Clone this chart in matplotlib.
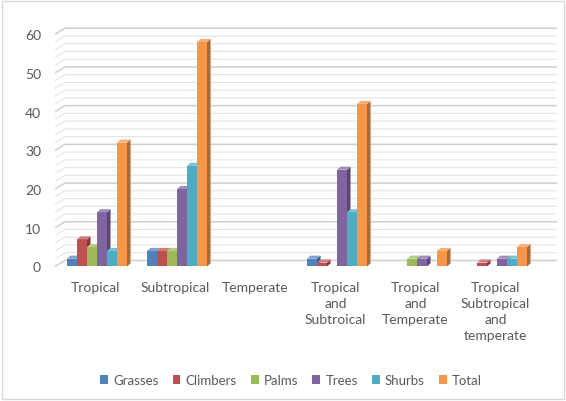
import matplotlib
matplotlib.use('Agg')
import matplotlib.pyplot as plt
from matplotlib.patches import Patch, Rectangle
from matplotlib.colors import to_rgb
import numpy as np

plt.rcParams['font.family'] = ['Lato', 'DejaVu Sans']

regions = ['Tropical', 'Subtropical', 'Temperate', 'Tropical\nand\nSubtroical',
           'Tropical\nand\nTemperate', 'Tropical\nSubtropical\nand\ntemperate']
series_names = ['Grasses', 'Climbers', 'Palms', 'Trees', 'Shurbs', 'Total']
grasses = [2, 4, 0, 2, 0, 0]
climbers = [7, 4, 0, 1, 0, 1]
palms = [5, 4, 0, 0, 2, 0]
trees = [14, 20, 0, 25, 2, 2]
shurbs = [4, 26, 0, 14, 0, 2]
total = [32, 58, 0, 42, 4, 5]
colors = ['#4F81BD', '#C0504D', '#9BBB59', '#8064A2', '#4BACC6', '#F79646']

series = [grasses, climbers, palms, trees, shurbs, total]
text_color = '#595959'


def shade(c, f):
    r, g, b = to_rgb(c)
    if f < 1:
        return (r * f, g * f, b * f)
    return (r + (1 - r) * (f - 1), g + (1 - g) * (f - 1), b + (1 - b) * (f - 1))


fig = plt.figure(figsize=(5.66, 4.02), dpi=100)
ax = fig.add_axes([55 / 566, 0.3289, 502 / 566, 0.6075])

x_lo, x_hi = -0.525, 5.75
ax.set_xlim(x_lo, x_hi)
ax.set_ylim(-0.6, 62.5)

# back wall gridlines, with the slanted piece on the side wall
wall_dx, wall_dy = 0.125, 1.55
for y in range(0, 61, 2):
    col = '#cfcfcf' if y % 10 == 0 else '#e4e4e4'
    lw = 1.1 if y % 10 == 0 else 0.8
    ax.plot([x_lo, x_lo + wall_dx, x_hi], [y, y + wall_dy, y + wall_dy],
            color=col, lw=lw, zorder=1, solid_capstyle='butt')

w = 0.125
dep_x, dep_y = 0.044, 0.8
x = np.arange(len(regions))
for i, (vals, c) in enumerate(zip(series, colors)):
    pos = x + (i - 2.5) * w
    z = 3 + i * 0.1
    for px, v in zip(pos, vals):
        if v == 0:
            continue
        ax.bar(px, v, w, color=c, zorder=z, linewidth=0)
        l, r = px - w / 2, px + w / 2
        ax.fill([r, r + dep_x, r + dep_x, r], [0, dep_y, v + dep_y, v],
                color=shade(c, 0.7), lw=0, zorder=z)
        ax.fill([l, l + dep_x, r + dep_x, r], [v, v + dep_y, v + dep_y, v],
                color=shade(c, 1.25), lw=0, zorder=z)

ax.set_yticks(range(0, 61, 10))
ax.set_xticks(x - 0.02)
ax.set_xticklabels(regions, linespacing=1.4, va='top')
ax.tick_params(axis='both', length=0, colors=text_color, labelsize=10)
ax.tick_params(axis='x', pad=9)
ax.tick_params(axis='y', pad=10)
for s in ax.spines.values():
    s.set_visible(False)

handles = [Patch(facecolor=c, label=n) for c, n in zip(colors, series_names)]
leg = fig.legend(handles=handles, loc='center', bbox_to_anchor=(291 / 566, 1 - 381 / 402),
                 ncol=6, frameon=False, fontsize=9.5, handlelength=0.6, handleheight=0.6,
                 handletextpad=0.4, columnspacing=1.05)
for t in leg.get_texts():
    t.set_color(text_color)

fig.patches.append(Rectangle((0.004, 0.004), 0.992, 0.99, transform=fig.transFigure,
                             fill=False, edgecolor='#d9d9d9', lw=1))

fig.savefig('out.png', dpi=100)
